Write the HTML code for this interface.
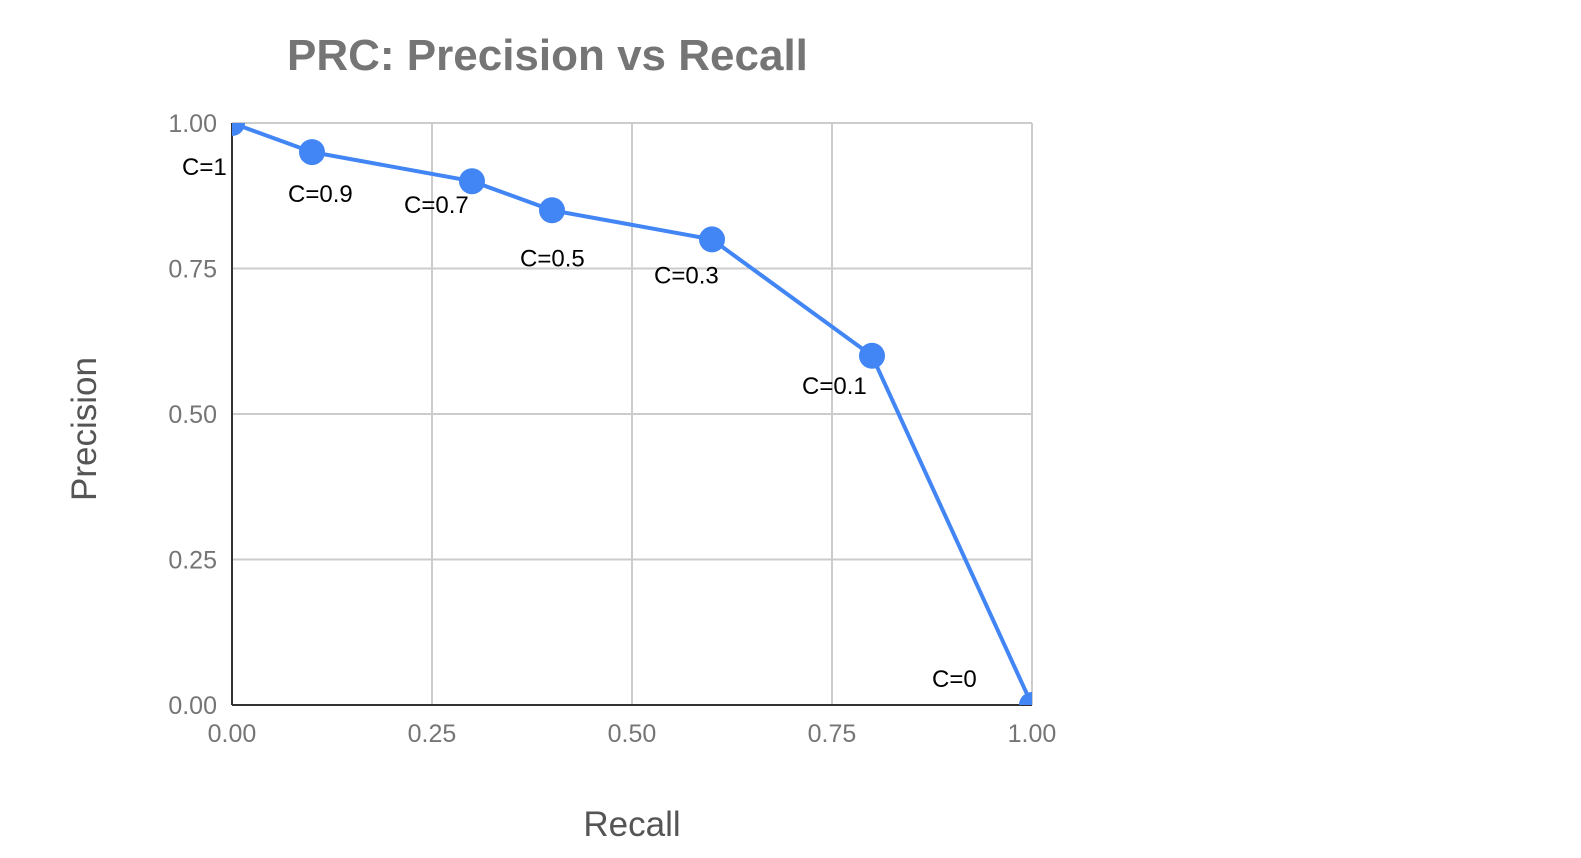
<!DOCTYPE html>
<html><head><meta charset="utf-8"><style>
html,body{margin:0;padding:0;background:#fff;}
svg{display:block;font-family:"Liberation Sans",sans-serif;}
</style></head><body>
<svg id="chart" width="1581" height="858" viewBox="0 0 1581 858">
<defs><clipPath id="plotclip"><rect x="232" y="123" width="800" height="582"/></clipPath></defs>
<text x="287" y="70" font-size="44" font-weight="bold" fill="#757575">PRC: Precision vs Recall</text>
<g id="grid"></g>
<g id="axes"></g>
<g id="series" clip-path="url(#plotclip)"></g>
<g id="labels"></g>
<text x="632" y="836" font-size="35" fill="#555" text-anchor="middle">Recall</text>
<text transform="translate(96,429) rotate(-90)" font-size="35" fill="#555" text-anchor="middle">Precision</text>
</svg>
<script>
const recall=[0,0.1,0.3,0.4,0.6,0.8,1];
const precision=[1,0.95,0.9,0.85,0.8,0.6,0];
const pointLabels=["C=1","C=0.9","C=0.7","C=0.5","C=0.3","C=0.1","C=0"];
const xTicks=[0,0.25,0.5,0.75,1];
const yTicks=[0,0.25,0.5,0.75,1];
const tickLabels=["0.00","0.25","0.50","0.75","1.00"];
const labelOffsets=[[-50,52],[-24,50],[-68,32],[-32,56],[-58,44],[-70,38],[-100,-18]];
const X0=232,X1=1032,Y0=705,Y1=123;
const sx=v=>X0+(X1-X0)*v, sy=v=>Y0-(Y0-Y1)*v;
const NS="http://www.w3.org/2000/svg";
function mk(tag,attrs,parent){const e=document.createElementNS(NS,tag);for(const k in attrs)e.setAttribute(k,attrs[k]);document.getElementById(parent).appendChild(e);return e;}
xTicks.forEach((t,i)=>{
 const l=mk('line',{x1:sx(t),x2:sx(t),y1:Y1,y2:Y0,stroke:'#ccc','stroke-width':2},'grid');
 
 
 const tx=mk('text',{x:sx(t),y:742,'font-size':25,fill:'#757575','text-anchor':'middle'},'axes');
 tx.textContent=tickLabels[i];
 
 
});
yTicks.forEach((t,i)=>{
 const l=mk('line',{x1:X0,x2:X1,y1:sy(t),y2:sy(t),stroke:'#ccc','stroke-width':2},'grid');
 
 
 const tx=mk('text',{x:217,y:sy(t)+9,'font-size':25,fill:'#757575','text-anchor':'end'},'axes');
 tx.textContent=tickLabels[i];
 
 
});
const ax=mk('line',{x1:X0,x2:X0,y1:Y1,y2:Y0,stroke:'#333','stroke-width':2},'axes');


const bx=mk('line',{x1:X0,x2:X1,y1:Y0,y2:Y0,stroke:'#333','stroke-width':2},'axes');


const pl=mk('polyline',{points:recall.map((r,i)=>sx(r)+','+sy(precision[i])).join(' '),fill:'none',stroke:'#4285f4','stroke-width':4},'series');


recall.forEach((r,i)=>{
 const c=mk('circle',{cx:sx(r),cy:sy(precision[i]),r:13,fill:'#4285f4'},'series');
 
 
 const o=labelOffsets[i];
 const t=mk('text',{x:sx(r)+o[0],y:sy(precision[i])+o[1],'font-size':24,fill:'#000'},'labels');
 t.textContent=pointLabels[i];
 
 
});
</script>
</body></html>
